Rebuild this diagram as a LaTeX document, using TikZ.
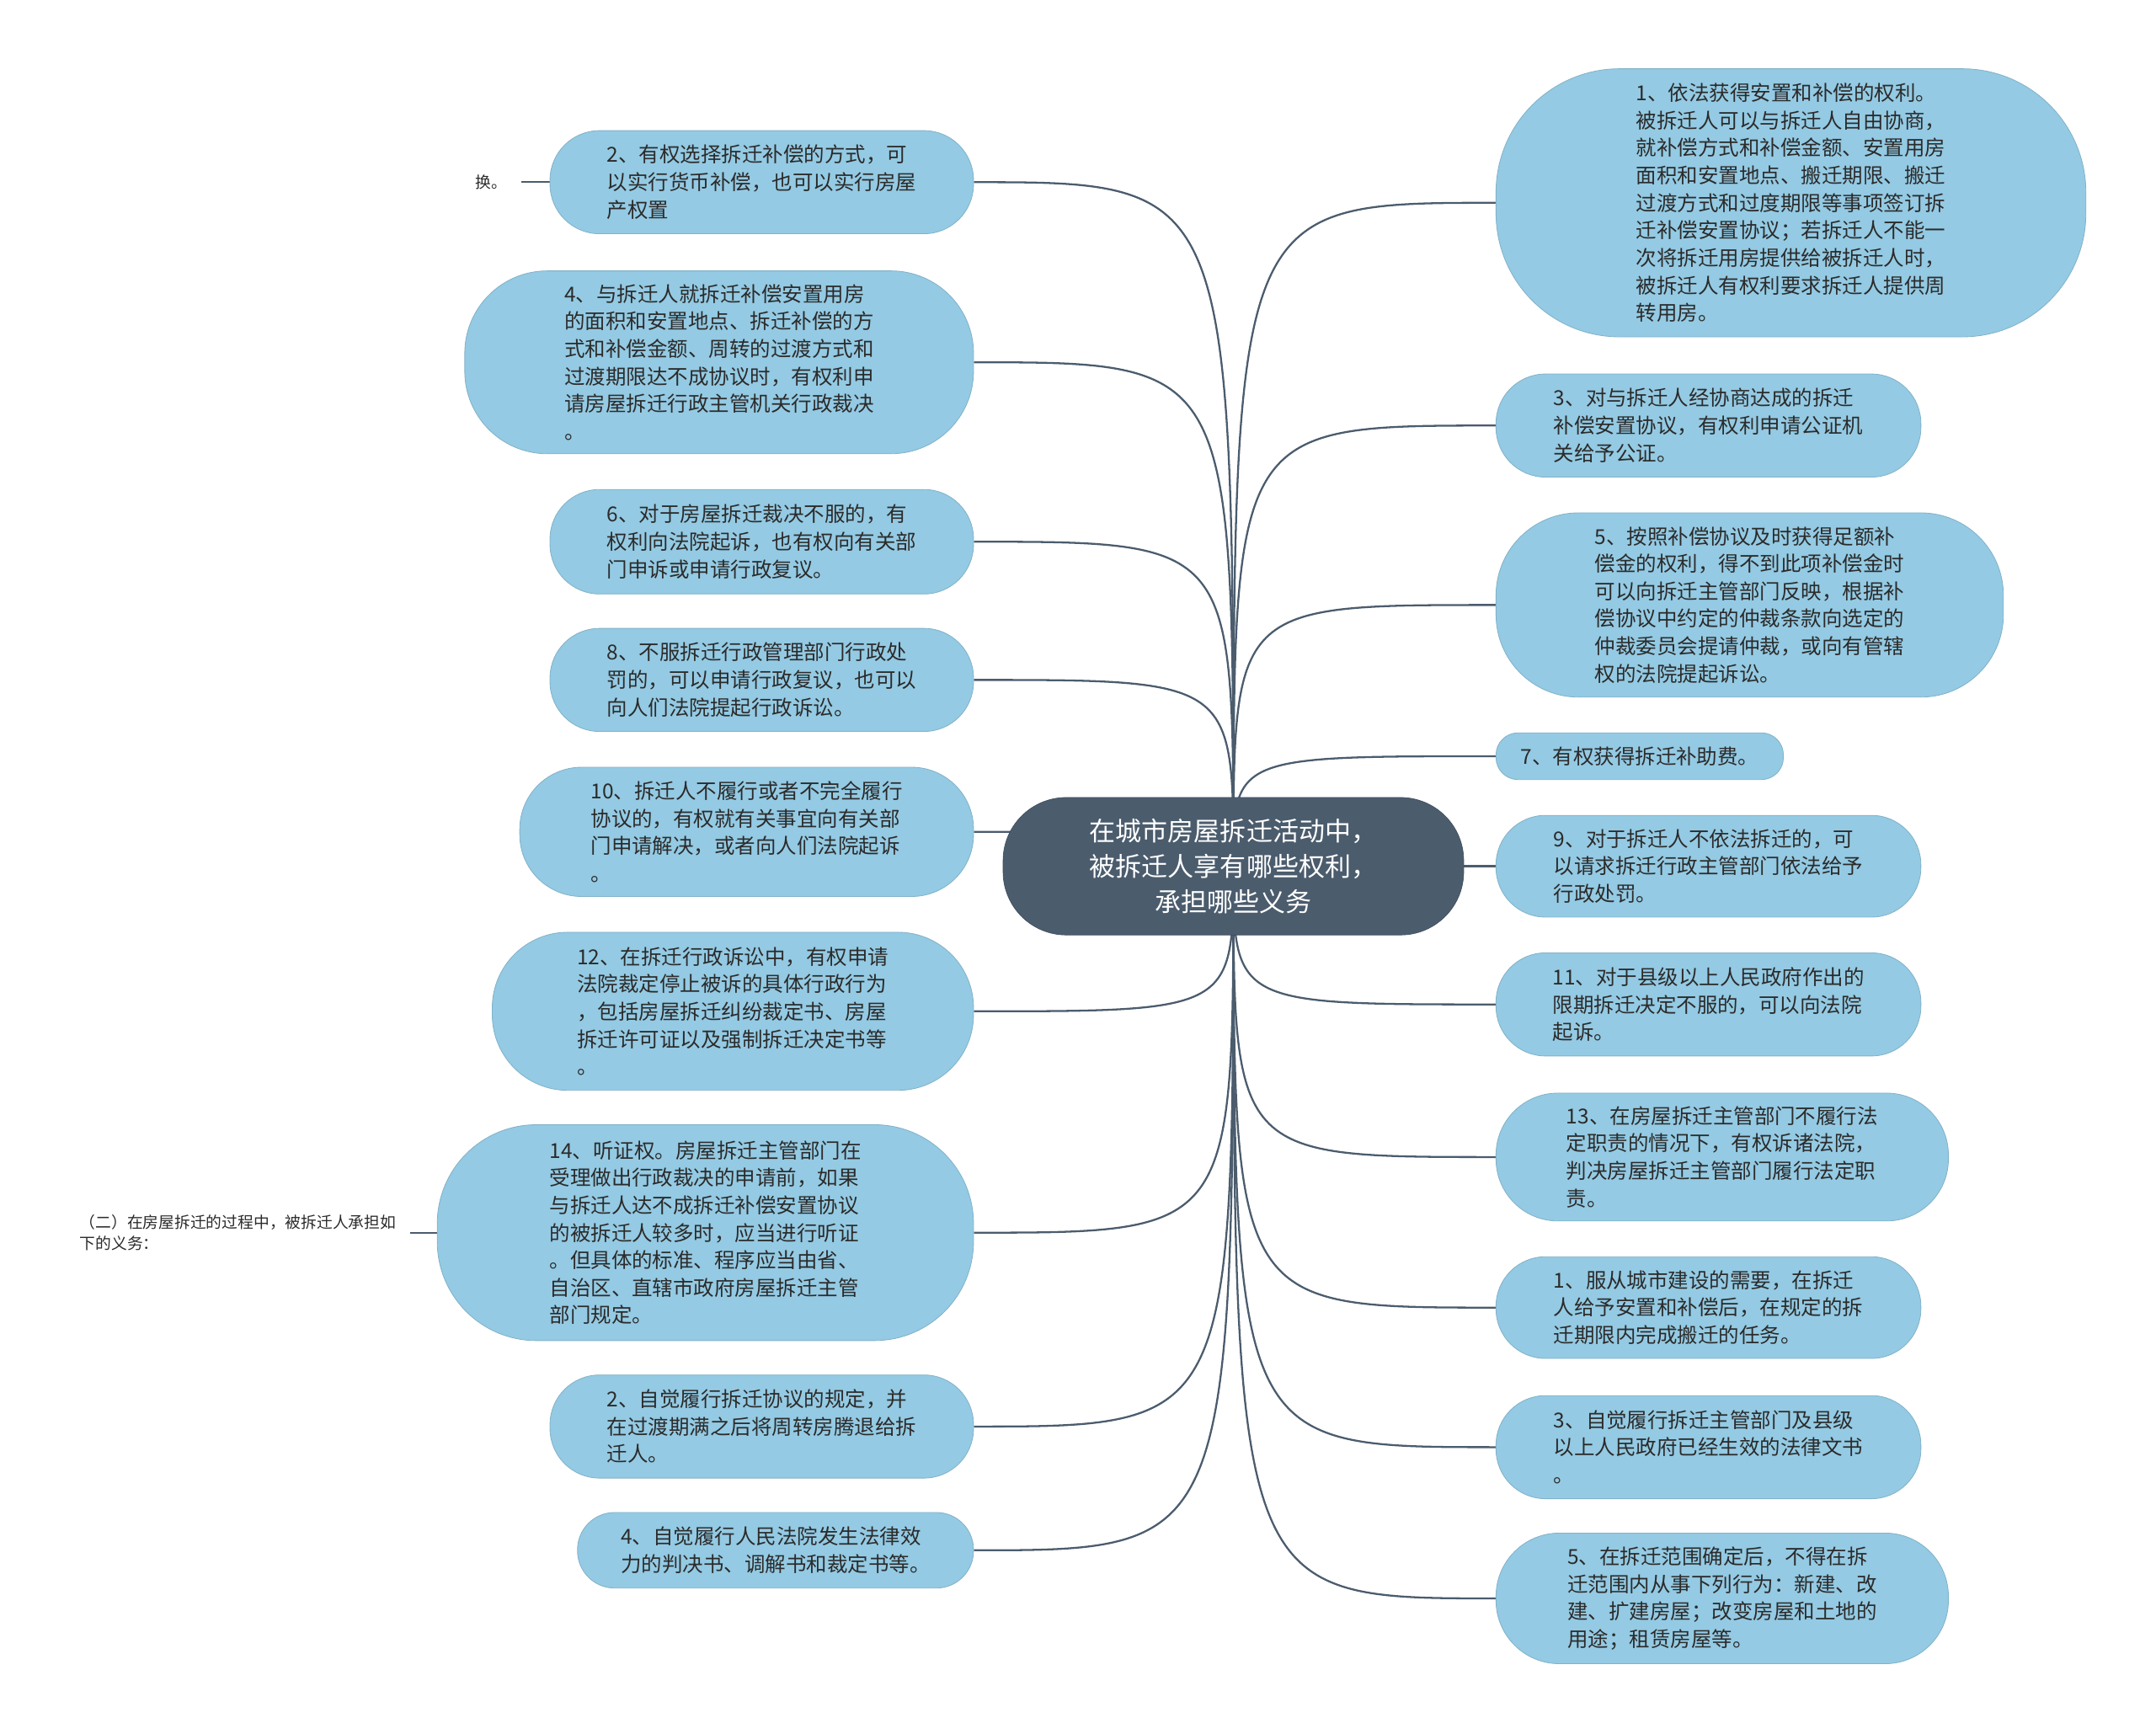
\documentclass[tikz,border=0pt]{standalone}
\usepackage{fontspec}
\setmainfont{Noto Sans CJK SC}
\usetikzlibrary{backgrounds}
\definecolor{leafblue}{HTML}{94CAE3}
\definecolor{rootslate}{HTML}{4B5C6D}
\definecolor{leaftext}{HTML}{2B2B2B}
\tikzset{
	root/.style={fill=rootslate, draw=rootslate!85!black, text=white, align=center,
		font=\fontsize{19}{26}\selectfont, inner sep=0pt, rounded corners=46pt},
	leaf/.style={fill=leafblue, draw=leafblue!88!black, line width=0.5pt, text=leaftext,
		align=left, font=\fontsize{15}{20}\selectfont, inner sep=0pt},
	side/.style={text=leaftext, align=left, font=\fontsize{11.5}{15}\selectfont,
		inner sep=0pt, outer xsep=10pt},
	link/.style={draw=rootslate, line width=1.4pt},
}
\begin{document}
\begin{tikzpicture}[x=1pt,y=-1pt]
	\useasboundingbox (0,0) rectangle (1568,1261);
	
	% root
	\node[root, minimum width=335, minimum height=100] (root) at (897,630)
		{在城市房屋拆迁活动中，\\被拆迁人享有哪些权利，\\承担哪些义务};
	
	% left branch
	\node[leaf, minimum width=308, minimum height=75, rounded corners=36] (L1) at (554,132.5)
		{2、有权选择拆迁补偿的方式，可\\以实行货币补偿，也可以实行房屋\\产权置};
	\node[leaf, minimum width=370, minimum height=133, rounded corners=60] (L2) at (523,263.5)
		{4、与拆迁人就拆迁补偿安置用房\\的面积和安置地点、拆迁补偿的方\\式和补偿金额、周转的过渡方式和\\过渡期限达不成协议时，有权利申\\请房屋拆迁行政主管机关行政裁决\\。};
	\node[leaf, minimum width=308, minimum height=76, rounded corners=36] (L3) at (554,394)
		{6、对于房屋拆迁裁决不服的，有\\权利向法院起诉，也有权向有关部\\门申诉或申请行政复议。};
	\node[leaf, minimum width=308, minimum height=75, rounded corners=36] (L4) at (554,494.5)
		{8、不服拆迁行政管理部门行政处\\罚的，可以申请行政复议，也可以\\向人们法院提起行政诉讼。};
	\node[leaf, minimum width=330, minimum height=94, rounded corners=45] (L5) at (543,605)
		{10、拆迁人不履行或者不完全履行\\协议的，有权就有关事宜向有关部\\门申请解决，或者向人们法院起诉\\。};
	\node[leaf, minimum width=350, minimum height=115, rounded corners=55] (L6) at (533,735.5)
		{12、在拆迁行政诉讼中，有权申请\\法院裁定停止被诉的具体行政行为\\，包括房屋拆迁纠纷裁定书、房屋\\拆迁许可证以及强制拆迁决定书等\\。};
	\node[leaf, minimum width=390, minimum height=157, rounded corners=72] (L7) at (513,896.5)
		{14、听证权。房屋拆迁主管部门在\\受理做出行政裁决的申请前，如果\\与拆迁人达不成拆迁补偿安置协议\\的被拆迁人较多时，应当进行听证\\。但具体的标准、程序应当由省、\\自治区、直辖市政府房屋拆迁主管\\部门规定。};
	\node[leaf, minimum width=308, minimum height=75, rounded corners=36] (L8) at (554,1037.5)
		{2、自觉履行拆迁协议的规定，并\\在过渡期满之后将周转房腾退给拆\\迁人。};
	\node[leaf, minimum width=288, minimum height=55, rounded corners=27] (L9) at (564,1127.5)
		{4、自觉履行人民法院发生法律效\\力的判决书、调解书和裁定书等。};
	
	% right branch
	\node[leaf, minimum width=429, minimum height=195, rounded corners=90] (R1) at (1302.5,147.5)
		{1、依法获得安置和补偿的权利。\\被拆迁人可以与拆迁人自由协商，\\就补偿方式和补偿金额、安置用房\\面积和安置地点、搬迁期限、搬迁\\过渡方式和过度期限等事项签订拆\\迁补偿安置协议；若拆迁人不能一\\次将拆迁用房提供给被拆迁人时，\\被拆迁人有权利要求拆迁人提供周\\转用房。};
	\node[leaf, minimum width=309, minimum height=75, rounded corners=36] (R2) at (1242.5,309.5)
		{3、对与拆迁人经协商达成的拆迁\\补偿安置协议，有权利申请公证机\\关给予公证。};
	\node[leaf, minimum width=369, minimum height=134, rounded corners=60] (R3) at (1272.5,440)
		{5、按照补偿协议及时获得足额补\\偿金的权利，得不到此项补偿金时\\可以向拆迁主管部门反映，根据补\\偿协议中约定的仲裁条款向选定的\\仲裁委员会提请仲裁，或向有管辖\\权的法院提起诉讼。};
	\node[leaf, minimum width=209, minimum height=34, rounded corners=16] (R4) at (1192.5,550)
		{7、有权获得拆迁补助费。};
	\node[leaf, minimum width=309, minimum height=74, rounded corners=36] (R5) at (1242.5,630)
		{9、对于拆迁人不依法拆迁的，可\\以请求拆迁行政主管部门依法给予\\行政处罚。};
	\node[leaf, minimum width=309, minimum height=75, rounded corners=36] (R6) at (1242.5,730.5)
		{11、对于县级以上人民政府作出的\\限期拆迁决定不服的，可以向法院\\起诉。};
	\node[leaf, minimum width=329, minimum height=93, rounded corners=45] (R7) at (1252.5,841.5)
		{13、在房屋拆迁主管部门不履行法\\定职责的情况下，有权诉诸法院，\\判决房屋拆迁主管部门履行法定职\\责。};
	\node[leaf, minimum width=309, minimum height=74, rounded corners=36] (R8) at (1242.5,951)
		{1、服从城市建设的需要，在拆迁\\人给予安置和补偿后，在规定的拆\\迁期限内完成搬迁的任务。};
	\node[leaf, minimum width=309, minimum height=75, rounded corners=36] (R9) at (1242.5,1052.5)
		{3、自觉履行拆迁主管部门及县级\\以上人民政府已经生效的法律文书\\。};
	\node[leaf, minimum width=329, minimum height=95, rounded corners=46] (R10) at (1252.5,1162.5)
		{5、在拆迁范围确定后，不得在拆\\迁范围内从事下列行为：新建、改\\建、扩建房屋；改变房屋和土地的\\用途；租赁房屋等。};
	
	% loose labels
	\node[side, anchor=east] (huan) at (379,132.5) {换。};
	\node[side, anchor=east] (duty) at (298,896.5)
		{（二）在房屋拆迁的过程中，被拆迁人承担如\\下的义务：};
	
	% connectors
	\begin{scope}[on background layer]
		\foreach \n in {L1,L2,L3,L4,L5,L6,L7,L8,L9}{
			\draw[link] (root.center) .. controls (root.center |- \n.east) .. (\n.east);
		}
		\foreach \n in {R1,R2,R3,R4,R5,R6,R7,R8,R9,R10}{
			\draw[link] (root.center) .. controls (root.center |- \n.west) .. (\n.west);
		}
		\draw[link] (L1.west) -- (huan.east);
		\draw[link] (L7.west) -- (duty.east);
	\end{scope}
\end{tikzpicture}
\end{document}
